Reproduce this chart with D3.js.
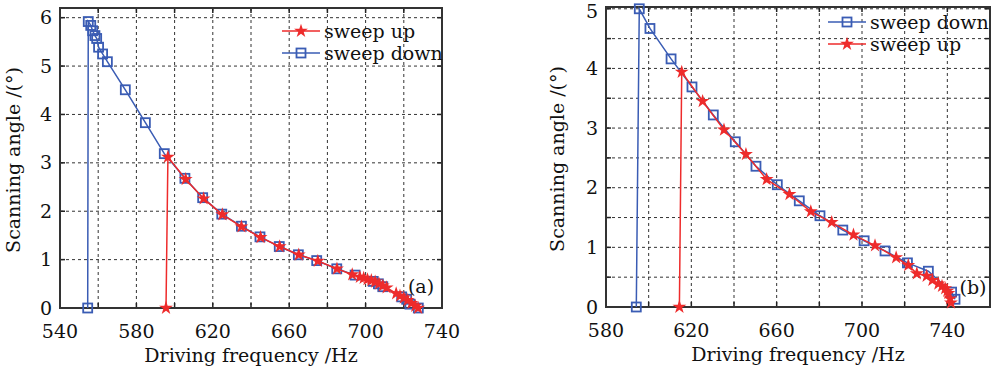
<!DOCTYPE html>
<html>
<head>
<meta charset="utf-8">
<script src="https://cdn.jsdelivr.net/npm/d3@7"></script>
<style>
  body { margin: 0; background: #fff; }
  svg text { font-family: "DejaVu Serif", "Liberation Serif", serif; fill: #111; }
</style>
</head>
<body>
<div id="chart"></div>
<script>
// panel (a) data
const aDownFreq  = [727.6, 723.2, 721.5, 718.9, 709.0, 706.7, 704.0, 694.5, 684.9, 674.4, 664.8, 654.8, 644.7, 635.0, 624.7, 614.7, 605.4, 594.6, 584.7, 574.2, 564.8, 562.3, 560.2, 559.2, 558.3, 557.1, 556.1, 554.8, 554.5];
const aDownAngle = [0.00, 0.08, 0.18, 0.23, 0.44, 0.50, 0.55, 0.68, 0.81, 0.98, 1.10, 1.27, 1.47, 1.69, 1.94, 2.28, 2.68, 3.19, 3.83, 4.51, 5.09, 5.25, 5.39, 5.57, 5.63, 5.73, 5.84, 5.92, 0.00];
const aUpFreq  = [595.5, 596.5, 605.8, 615.2, 625.0, 635.0, 645.0, 655.0, 665.0, 675.0, 685.0, 693.0, 697.0, 699.0, 701.0, 703.0, 705.0, 707.0, 709.0, 711.0, 716.0, 718.0, 720.0, 722.0, 724.0, 726.0, 727.5];
const aUpAngle = [0.00, 3.12, 2.66, 2.26, 1.93, 1.68, 1.46, 1.27, 1.10, 0.97, 0.81, 0.69, 0.64, 0.62, 0.59, 0.57, 0.54, 0.50, 0.46, 0.42, 0.30, 0.25, 0.21, 0.16, 0.10, 0.04, 0.00];

// panel (b) data
const bDownFreq  = [743.6, 742.0, 731.1, 721.3, 710.8, 701.0, 691.0, 680.3, 670.6, 660.3, 650.3, 640.6, 630.3, 620.3, 610.5, 600.6, 595.6, 594.2];
const bDownAngle = [0.13, 0.25, 0.60, 0.74, 0.94, 1.11, 1.29, 1.53, 1.78, 2.05, 2.36, 2.77, 3.22, 3.69, 4.16, 4.67, 5.00, 0.00];
const bUpFreq  = [614.4, 615.5, 625.3, 635.3, 645.6, 655.3, 666.0, 676.0, 685.8, 696.0, 706.1, 716.0, 721.7, 725.7, 730.3, 733.0, 735.8, 737.5, 739.0, 740.0, 740.5, 741.3, 741.7];
const bUpAngle = [0.00, 3.94, 3.45, 2.97, 2.56, 2.14, 1.89, 1.60, 1.42, 1.21, 1.03, 0.83, 0.70, 0.56, 0.52, 0.45, 0.39, 0.35, 0.31, 0.27, 0.23, 0.14, 0.07];

const aXTicks = [540, 580, 620, 660, 700, 740];
const aYTicks = [0, 1, 2, 3, 4, 5, 6];
const bXTicks = [580, 620, 660, 700, 740];
const bYTicks = [0, 1, 2, 3, 4, 5];

const blue = '#3a5cb4';
const red = '#ee2b2b';

const svg = d3.select('#chart').append('svg')
    .attr('width', 998)
    .attr('height', 370);

const starPath = d3.symbol().type(d3.symbolStar).size(60)();

function panel(cfg) {
  const x = d3.scaleLinear().domain(cfg.xDomain).range([cfg.left, cfg.right]);
  const y = d3.scaleLinear().domain(cfg.yDomain).range([cfg.bottom, cfg.top]);
  const g = svg.append('g');

  const xGrid = d3.range(cfg.xDomain[0], cfg.xDomain[1] + 0.1, 20);
  const yGrid = d3.range(cfg.yDomain[0], cfg.yTop + 0.001, cfg.yStep);

  // grid
  g.selectAll('.vg').data(xGrid.slice(1, -1)).join('line')
      .attr('x1', d => x(d)).attr('x2', d => x(d))
      .attr('y1', cfg.top).attr('y2', cfg.bottom)
      .attr('stroke', '#333').attr('stroke-width', 1).attr('stroke-dasharray', '3,3');
  g.selectAll('.hg').data(yGrid.slice(1)).join('line')
      .attr('x1', cfg.left).attr('x2', cfg.right)
      .attr('y1', d => y(d)).attr('y2', d => y(d))
      .attr('stroke', '#333').attr('stroke-width', 1).attr('stroke-dasharray', '3,3');

  // inward ticks on all sides
  g.selectAll('.tb').data(xGrid).join('line')
      .attr('x1', d => x(d)).attr('x2', d => x(d))
      .attr('y1', cfg.bottom).attr('y2', cfg.bottom - 5)
      .attr('stroke', '#222').attr('stroke-width', 1.5);
  g.selectAll('.tt').data(xGrid).join('line')
      .attr('x1', d => x(d)).attr('x2', d => x(d))
      .attr('y1', cfg.top).attr('y2', cfg.top + 5)
      .attr('stroke', '#222').attr('stroke-width', 1.5);
  g.selectAll('.tl').data(yGrid).join('line')
      .attr('x1', cfg.left).attr('x2', cfg.left + 5)
      .attr('y1', d => y(d)).attr('y2', d => y(d))
      .attr('stroke', '#222').attr('stroke-width', 1.5);
  g.selectAll('.tr').data(yGrid).join('line')
      .attr('x1', cfg.right).attr('x2', cfg.right - 5)
      .attr('y1', d => y(d)).attr('y2', d => y(d))
      .attr('stroke', '#222').attr('stroke-width', 1.5);

  // frame
  g.append('rect')
      .attr('x', cfg.left).attr('y', cfg.top)
      .attr('width', cfg.right - cfg.left).attr('height', cfg.bottom - cfg.top)
      .attr('fill', 'none').attr('stroke', '#333').attr('stroke-width', 2);

  // tick labels
  g.selectAll('.xl').data(cfg.xTicks).join('text')
      .attr('x', d => x(d)).attr('y', cfg.bottom + 30)
      .attr('text-anchor', 'middle').style('font-size', '19px')
      .text(d => d);
  g.selectAll('.yl').data(cfg.yTicks).join('text')
      .attr('x', cfg.left - 8).attr('y', d => Math.max(y(d), 11.5)).attr('dy', '0.35em')
      .attr('text-anchor', 'end').style('font-size', '19px')
      .text(d => d);

  // axis titles
  g.append('text')
      .attr('x', (cfg.left + cfg.right) / 2).attr('y', cfg.bottom + 54)
      .attr('text-anchor', 'middle').style('font-size', '19px')
      .text('Driving frequency /Hz');
  g.append('text')
      .attr('transform', `translate(${cfg.yTitleX},${(cfg.top + cfg.bottom) / 2 + 2}) rotate(-90)`)
      .attr('text-anchor', 'middle').style('font-size', '19px')
      .text('Scanning angle /(°)');

  const line = d3.line().x(d => x(d[0])).y(d => y(d[1]));

  cfg.series.forEach(s => {
    const pts = d3.zip(s.freq, s.angle);
    g.append('path').datum(pts)
        .attr('d', line)
        .attr('fill', 'none').attr('stroke', s.color).attr('stroke-width', 1.5);
    if (s.marker === 'square') {
      g.selectAll(null).data(pts).join('rect')
          .attr('x', d => x(d[0]) - 4.5).attr('y', d => y(d[1]) - 4.5)
          .attr('width', 9).attr('height', 9)
          .attr('fill', 'none').attr('stroke', s.color).attr('stroke-width', 1.8);
    } else {
      g.selectAll(null).data(pts).join('path')
          .attr('d', starPath)
          .attr('transform', d => `translate(${x(d[0])},${y(d[1])})`)
          .attr('fill', s.color);
    }
  });

  // legend
  cfg.legend.forEach((s, i) => {
    const ly = cfg.legendY + i * 22;
    g.append('line')
        .attr('x1', cfg.legendX).attr('x2', cfg.legendX + 38)
        .attr('y1', ly).attr('y2', ly)
        .attr('stroke', s.color).attr('stroke-width', 1.5);
    const mx = cfg.legendX + 19;
    if (s.marker === 'square') {
      g.append('rect').attr('x', mx - 4.5).attr('y', ly - 4.5)
          .attr('width', 9).attr('height', 9)
          .attr('fill', 'none').attr('stroke', s.color).attr('stroke-width', 1.8);
    } else {
      g.append('path').attr('d', starPath)
          .attr('transform', `translate(${mx},${ly})`).attr('fill', s.color);
    }
    g.append('text')
        .attr('x', cfg.legendX + 42).attr('y', ly).attr('dy', '0.35em')
        .style('font-size', '19px')
        .text(s.name);
  });

  g.append('text')
      .attr('x', cfg.tagX).attr('y', cfg.tagY).attr('dy', '0.35em')
      .attr('text-anchor', 'middle').style('font-size', '19px')
      .text(cfg.tag);
}

const upA = {name: 'sweep up', color: red, marker: 'star', freq: aUpFreq, angle: aUpAngle};
const downA = {name: 'sweep down', color: blue, marker: 'square', freq: aDownFreq, angle: aDownAngle};
panel({
  left: 60, right: 442, top: 8, bottom: 308,
  xDomain: [540, 740], yDomain: [0, 6.2], yTop: 6, yStep: 1,
  xTicks: aXTicks, yTicks: aYTicks,
  yTitleX: 20,
  series: [downA, upA],
  legend: [upA, downA], legendX: 282, legendY: 31,
  tag: '(a)', tagX: 421, tagY: 286
});

const upB = {name: 'sweep up', color: red, marker: 'star', freq: bUpFreq, angle: bUpAngle};
const downB = {name: 'sweep down', color: blue, marker: 'square', freq: bDownFreq, angle: bDownAngle};
panel({
  left: 606, right: 990, top: 7, bottom: 307,
  xDomain: [580, 760], yDomain: [0, 5.03], yTop: 5, yStep: 0.5,
  xTicks: bXTicks, yTicks: bYTicks,
  yTitleX: 564,
  series: [downB, upB],
  legend: [downB, upB], legendX: 828, legendY: 22,
  tag: '(b)', tagX: 973, tagY: 287
});
</script>
</body>
</html>
